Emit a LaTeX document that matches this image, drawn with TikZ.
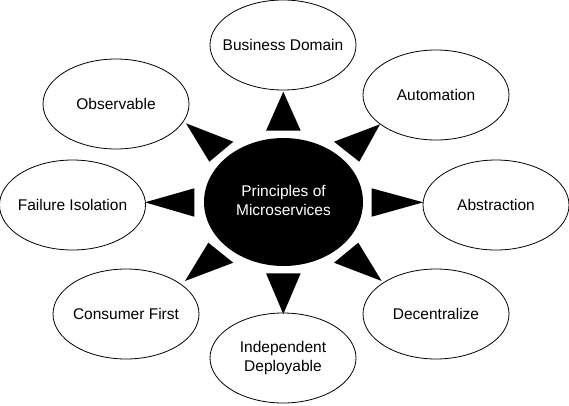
\documentclass[tikz,border=0pt]{standalone}
\usepackage{fontspec}
\setmainfont{Liberation Sans}
\usetikzlibrary{shapes.geometric}
\newcommand{\twoline}[2]{\makebox[0pt]{\begin{tabular}{@{}c@{}}#1\\#2\end{tabular}}}
\newcommand{\oneline}[1]{\makebox[0pt]{#1}}
\begin{document}
\begin{tikzpicture}[x=1pt,y=-1pt,
  leaf/.style={ellipse, draw=black, line width=0.8pt, fill=white, minimum width=146pt, minimum height=90pt, inner sep=0pt, font=\fontsize{15.5}{19}\selectfont},
  hub/.style={ellipse, fill=black, minimum width=159pt, minimum height=128pt, inner sep=0pt, text=white, font=\fontsize{15.5}{19}\selectfont},
  ray/.style={fill=black}]
\useasboundingbox (0,0) rectangle (569,405);
\fill[white] (0,0) rectangle (569,405);

\node[hub] (hub) at (283.5,202) {\twoline{Principles of}{Microservices}};

\node[leaf] (bd)  at (283,45)  {\oneline{Business Domain}};
\node[leaf] (aut) at (436,95)  {\oneline{Automation}};
\node[leaf] (abs) at (496,205) {\oneline{Abstraction}};
\node[leaf] (dec) at (436,314) {\oneline{Decentralize}};
\node[leaf] (ind) at (283,358) {\twoline{Independent}{Deployable}};
\node[leaf] (con) at (126,314) {\oneline{Consumer First}};
\node[leaf] (fai) at (72.5,205) {\oneline{Failure Isolation}};
\node[leaf] (obs) at (116,104) {\oneline{Observable}};

% rays
\fill[ray] (283.3,91.7) -- (266,130.7) -- (300.7,130.7) -- cycle;
\fill[ray] (283.3,314) -- (266,273.3) -- (300.7,273.3) -- cycle;
\fill[ray] (423.3,202.3) -- (371.7,188.3) -- (371.7,216.7) -- cycle;
\fill[ray] (145,202.3) -- (194.3,188.3) -- (194.3,216.7) -- cycle;
\fill[ray] (186,123.3) -- (233.3,141.7) -- (209.3,161.7) -- cycle;
\fill[ray] (380,124.3) -- (334,141.7) -- (359.3,161.7) -- cycle;
\fill[ray] (185,281) -- (208.3,242.7) -- (233.3,262.7) -- cycle;
\fill[ray] (381.7,281) -- (358.3,242.7) -- (334,262.7) -- cycle;
\end{tikzpicture}
\end{document}
